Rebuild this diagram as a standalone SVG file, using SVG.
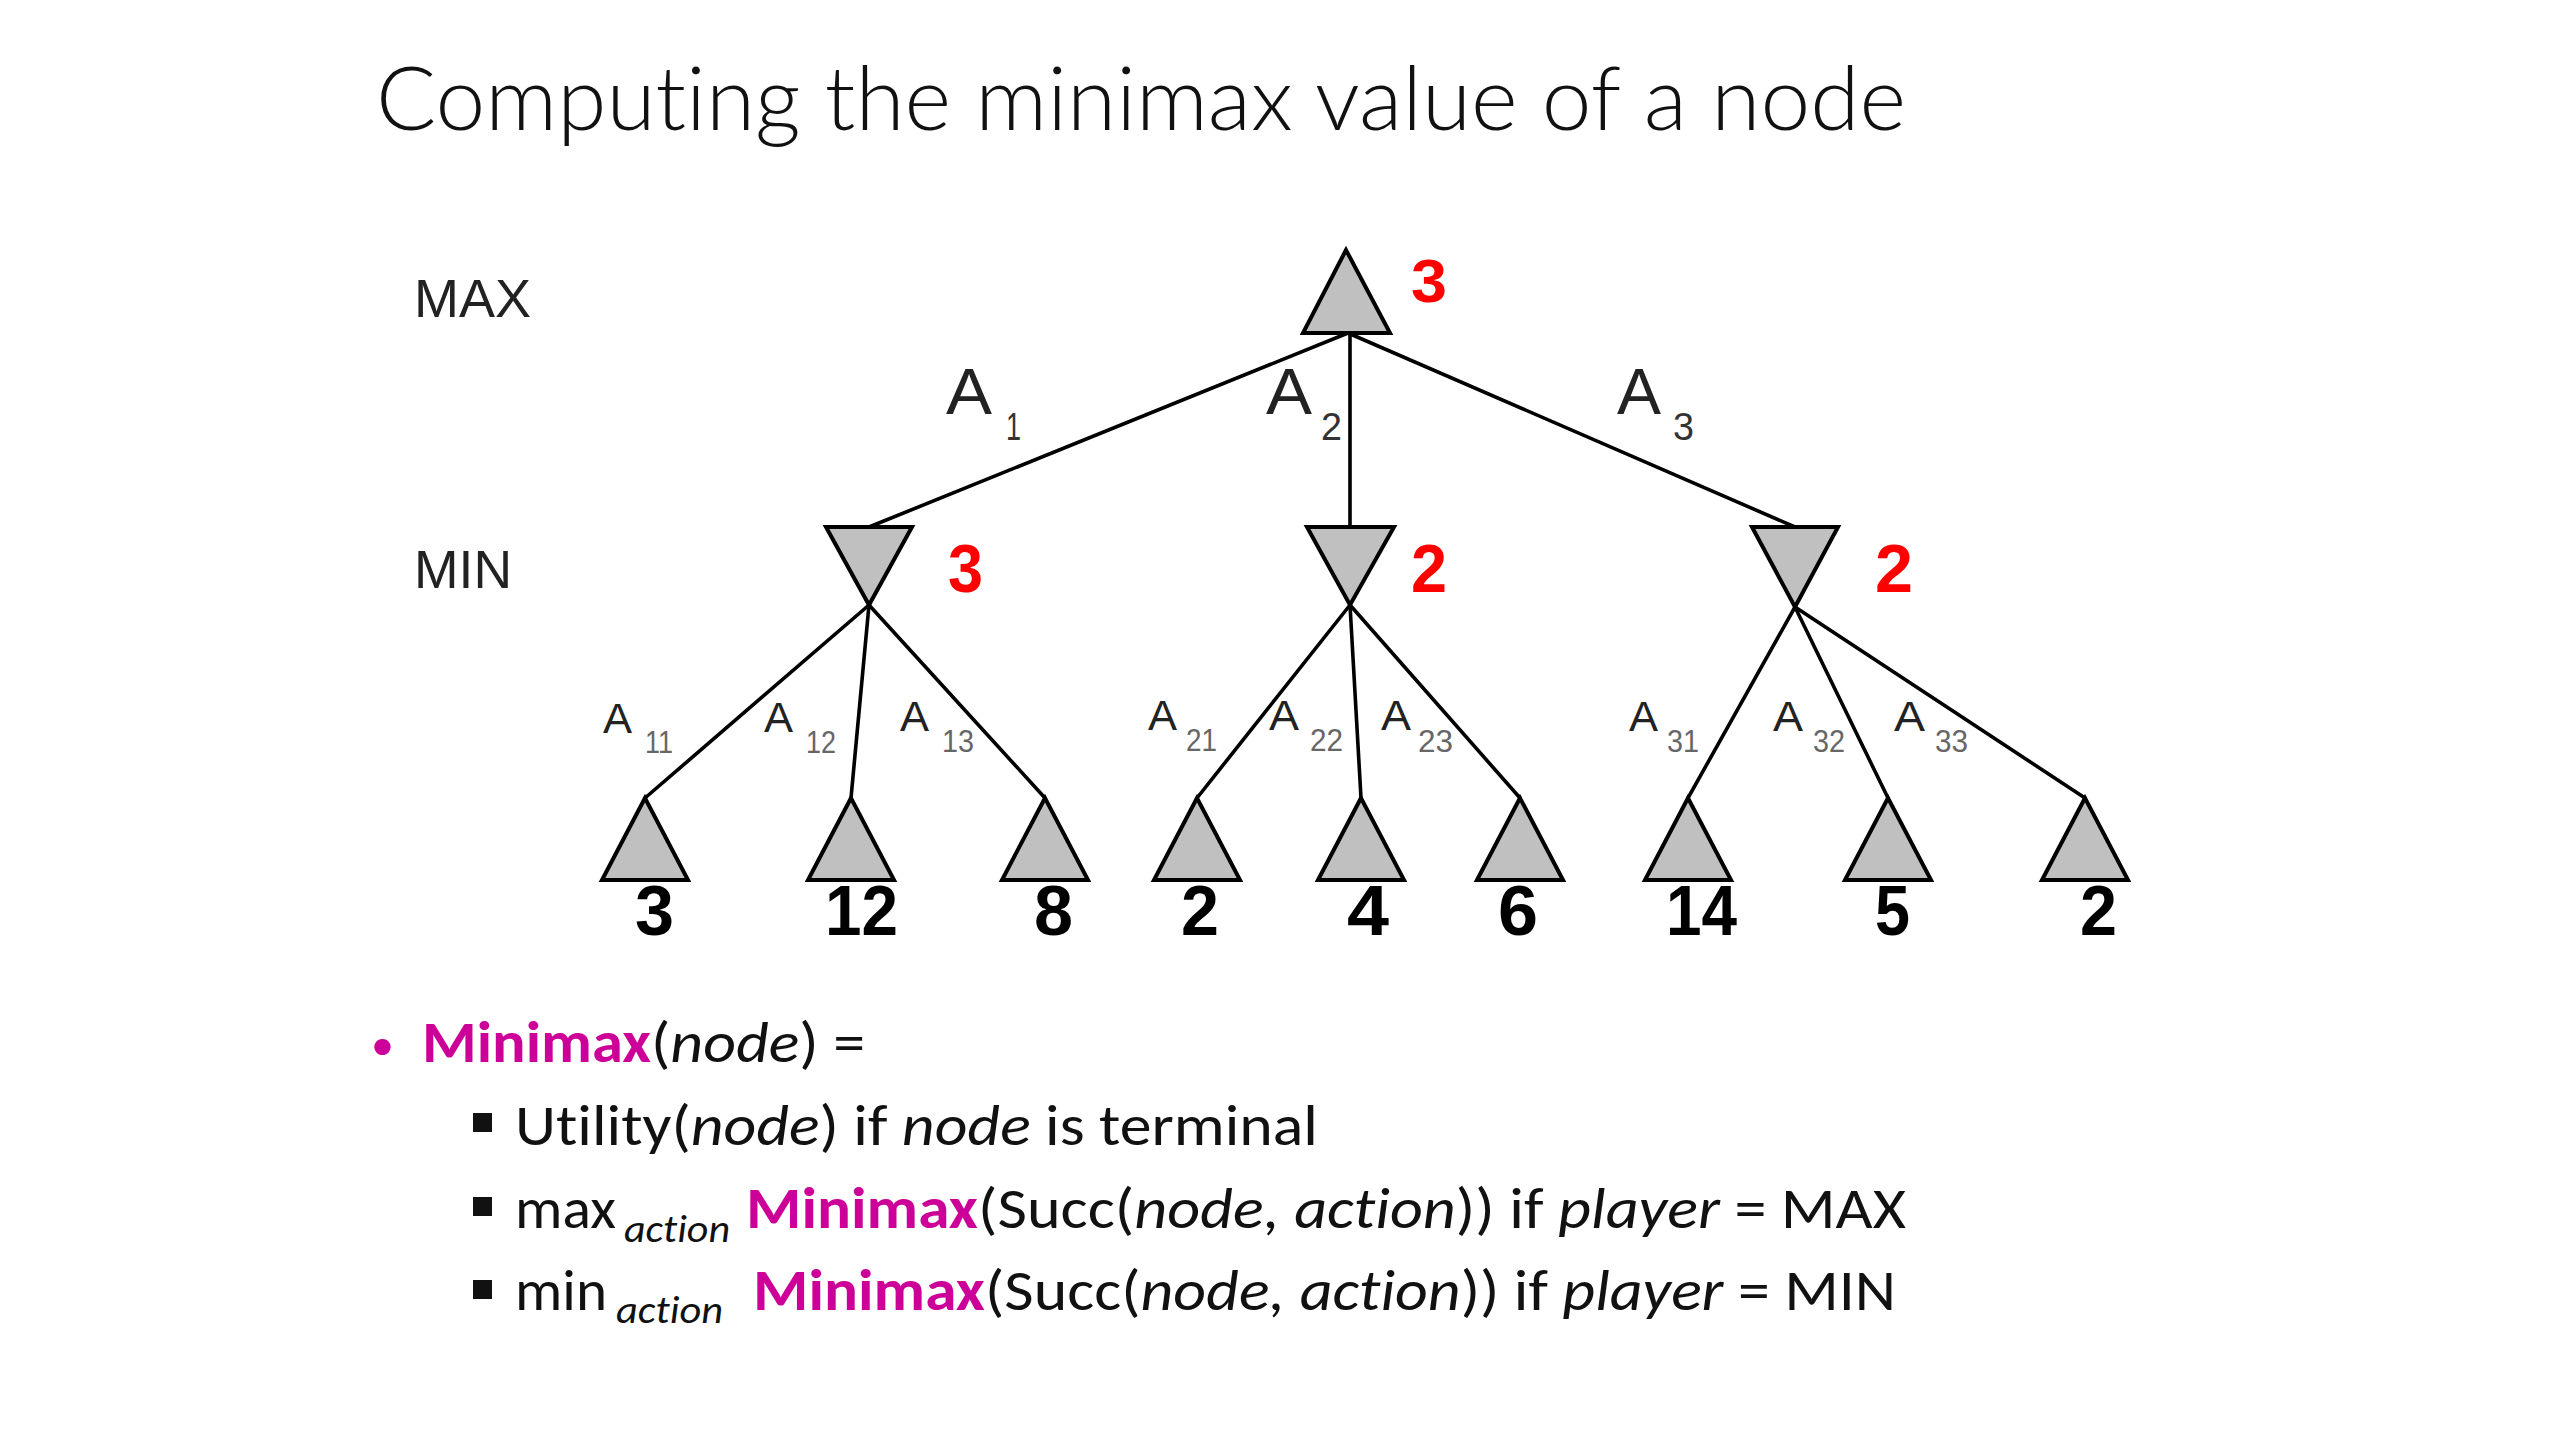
<svg xmlns="http://www.w3.org/2000/svg" width="2560" height="1440" viewBox="0 0 2560 1440">
<defs>
<style>
.bg{fill:#ffffff}
.tri{fill:#c0c0c0;stroke:#000;stroke-width:4;stroke-linejoin:miter}
.edge{stroke:#000;stroke-width:3.6;fill:none;stroke-linecap:round}
.cal{font-family:Carlito,"Open Sans","Noto Sans",sans-serif;font-variant-ligatures:none}
.title{font-family:Lato,"Open Sans",sans-serif;font-weight:300;font-size:88px;fill:#111;font-variant-ligatures:none}
.body{font-size:58px;fill:#111}
.mm{font-weight:700;fill:#cc0099}
.sub{font-size:38px;font-style:italic}
.ar{font-family:"Liberation Sans",Arial,sans-serif}
.lvl{font-size:54px;fill:#222}
.red{font-weight:700;fill:#ff0000}
.leafv{font-weight:700;font-size:70px;fill:#000}
.a1{font-size:64px;fill:#222}
.a1s{font-size:38px;fill:#333}
.a2{font-size:42px;fill:#222}
.a2s{font-size:31px;fill:#666}
</style>
</defs>
<rect class="bg" x="0" y="0" width="2560" height="1440"/>

<text id="title" class="title" x="376" y="130" textLength="1530" lengthAdjust="spacingAndGlyphs">Computing the minimax value of a node</text>

<g id="level-labels">
<text class="ar lvl" x="414" y="317" textLength="117" lengthAdjust="spacingAndGlyphs">MAX</text>
<text class="ar lvl" x="414" y="588" textLength="98" lengthAdjust="spacingAndGlyphs">MIN</text>
</g>

<g id="connectors">
<line class="edge" x1="1348" y1="333" x2="869" y2="527"/>
<line class="edge" x1="1350" y1="333" x2="1350" y2="527"/>
<line class="edge" x1="1348" y1="333" x2="1795" y2="527"/>
<line class="edge" x1="869" y1="605" x2="645" y2="798"/>
<line class="edge" x1="869" y1="605" x2="851" y2="798"/>
<line class="edge" x1="869" y1="605" x2="1045" y2="798"/>
<line class="edge" x1="1350" y1="605" x2="1197" y2="798"/>
<line class="edge" x1="1350" y1="605" x2="1361" y2="798"/>
<line class="edge" x1="1350" y1="605" x2="1520" y2="798"/>
<line class="edge" x1="1795" y1="607" x2="1688" y2="798"/>
<line class="edge" x1="1795" y1="607" x2="1888" y2="798"/>
<line class="edge" x1="1795" y1="607" x2="2085" y2="798"/>
</g>

<g id="edge-labels">
<text class="ar a1" x="946" y="414" textLength="46" lengthAdjust="spacingAndGlyphs">A</text>
<text class="ar a1s" x="1006" y="440" textLength="15" lengthAdjust="spacingAndGlyphs">1</text>
<text class="ar a1" x="1266" y="414" textLength="46" lengthAdjust="spacingAndGlyphs">A</text>
<text class="ar a1s" x="1321" y="440" textLength="21" lengthAdjust="spacingAndGlyphs">2</text>
<text class="ar a1" x="1617" y="414" textLength="44" lengthAdjust="spacingAndGlyphs">A</text>
<text class="ar a1s" x="1673" y="440" textLength="21" lengthAdjust="spacingAndGlyphs">3</text>

<text class="ar a2" x="603" y="733" textLength="29" lengthAdjust="spacingAndGlyphs">A</text>
<text class="ar a2s" x="645" y="753" textLength="28" lengthAdjust="spacingAndGlyphs">11</text>
<text class="ar a2" x="764" y="732" textLength="29" lengthAdjust="spacingAndGlyphs">A</text>
<text class="ar a2s" x="806" y="753" textLength="30" lengthAdjust="spacingAndGlyphs">12</text>
<text class="ar a2" x="900" y="731" textLength="29" lengthAdjust="spacingAndGlyphs">A</text>
<text class="ar a2s" x="942" y="752" textLength="32" lengthAdjust="spacingAndGlyphs">13</text>
<text class="ar a2" x="1148" y="730" textLength="29" lengthAdjust="spacingAndGlyphs">A</text>
<text class="ar a2s" x="1186" y="751" textLength="31" lengthAdjust="spacingAndGlyphs">21</text>
<text class="ar a2" x="1269" y="730" textLength="30" lengthAdjust="spacingAndGlyphs">A</text>
<text class="ar a2s" x="1310" y="751" textLength="33" lengthAdjust="spacingAndGlyphs">22</text>
<text class="ar a2" x="1381" y="730" textLength="30" lengthAdjust="spacingAndGlyphs">A</text>
<text class="ar a2s" x="1418" y="752" textLength="35" lengthAdjust="spacingAndGlyphs">23</text>
<text class="ar a2" x="1629" y="731" textLength="29" lengthAdjust="spacingAndGlyphs">A</text>
<text class="ar a2s" x="1667" y="752" textLength="32" lengthAdjust="spacingAndGlyphs">31</text>
<text class="ar a2" x="1773" y="731" textLength="30" lengthAdjust="spacingAndGlyphs">A</text>
<text class="ar a2s" x="1813" y="752" textLength="32" lengthAdjust="spacingAndGlyphs">32</text>
<text class="ar a2" x="1894" y="731" textLength="31" lengthAdjust="spacingAndGlyphs">A</text>
<text class="ar a2s" x="1935" y="752" textLength="33" lengthAdjust="spacingAndGlyphs">33</text>
</g>

<g id="root">
<polygon class="tri" points="1346,250 1303,333 1390,333"/>
<text class="ar red" x="1411" y="302" font-size="62" textLength="36" lengthAdjust="spacingAndGlyphs">3</text>
</g>

<g id="min1">
<polygon class="tri" points="826,527 912,527 869,605"/>
<text class="ar red" x="948" y="592" font-size="68" textLength="35" lengthAdjust="spacingAndGlyphs">3</text>
</g>
<g id="min2">
<polygon class="tri" points="1307,527 1394,527 1350,605"/>
<text class="ar red" x="1411" y="592" font-size="68" textLength="36" lengthAdjust="spacingAndGlyphs">2</text>
</g>
<g id="min3">
<polygon class="tri" points="1752,527 1838,527 1795,607"/>
<text class="ar red" x="1875" y="592" font-size="68" textLength="38" lengthAdjust="spacingAndGlyphs">2</text>
</g>

<g id="leaf1"><polygon class="tri" points="645,798 602,880 688,880"/><text class="ar leafv" x="635" y="935" textLength="39" lengthAdjust="spacingAndGlyphs">3</text></g>
<g id="leaf2"><polygon class="tri" points="851,798 808,880 894,880"/><text class="ar leafv" x="825" y="935" textLength="73" lengthAdjust="spacingAndGlyphs">12</text></g>
<g id="leaf3"><polygon class="tri" points="1045,798 1002,880 1088,880"/><text class="ar leafv" x="1034" y="935" textLength="39" lengthAdjust="spacingAndGlyphs">8</text></g>
<g id="leaf4"><polygon class="tri" points="1197,798 1154,880 1240,880"/><text class="ar leafv" x="1181" y="935" textLength="38" lengthAdjust="spacingAndGlyphs">2</text></g>
<g id="leaf5"><polygon class="tri" points="1361,798 1318,880 1404,880"/><text class="ar leafv" x="1347" y="935" textLength="42" lengthAdjust="spacingAndGlyphs">4</text></g>
<g id="leaf6"><polygon class="tri" points="1520,798 1477,880 1563,880"/><text class="ar leafv" x="1498" y="935" textLength="40" lengthAdjust="spacingAndGlyphs">6</text></g>
<g id="leaf7"><polygon class="tri" points="1688,798 1645,880 1731,880"/><text class="ar leafv" x="1666" y="935" textLength="71" lengthAdjust="spacingAndGlyphs">14</text></g>
<g id="leaf8"><polygon class="tri" points="1888,798 1845,880 1931,880"/><text class="ar leafv" x="1875" y="935" textLength="35" lengthAdjust="spacingAndGlyphs">5</text></g>
<g id="leaf9"><polygon class="tri" points="2085,798 2042,880 2128,880"/><text class="ar leafv" x="2080" y="935" textLength="37" lengthAdjust="spacingAndGlyphs">2</text></g>

<g id="definition">
<text class="cal" x="371" y="1060" font-size="46" fill="#cc0099">•</text>
<text class="cal body mm" x="422" y="1062" textLength="229" lengthAdjust="spacingAndGlyphs">Minimax</text>
<text class="cal body" x="651" y="1062" textLength="214" lengthAdjust="spacingAndGlyphs">(<tspan font-style="italic">node</tspan>) =</text>

<rect x="473" y="1113" width="19" height="19" fill="#111"/>
<text class="cal body" x="515" y="1145" textLength="803" lengthAdjust="spacingAndGlyphs">Utility(<tspan font-style="italic">node</tspan>) if <tspan font-style="italic">node</tspan> is terminal</text>

<rect x="473" y="1197" width="19" height="19" fill="#111"/>
<text class="cal body" x="515" y="1228" textLength="101" lengthAdjust="spacingAndGlyphs">max</text>
<text class="cal body sub" x="624" y="1242" textLength="106" lengthAdjust="spacingAndGlyphs">action</text>
<text class="cal body mm" x="746" y="1228" textLength="232" lengthAdjust="spacingAndGlyphs">Minimax</text>
<text class="cal body" x="978" y="1228" textLength="928" lengthAdjust="spacingAndGlyphs">(Succ(<tspan font-style="italic">node, action</tspan>)) if <tspan font-style="italic">player</tspan> = MAX</text>

<rect x="473" y="1280" width="19" height="19" fill="#111"/>
<text class="cal body" x="515" y="1310" textLength="92" lengthAdjust="spacingAndGlyphs">min</text>
<text class="cal body sub" x="616" y="1323" textLength="107" lengthAdjust="spacingAndGlyphs">action</text>
<text class="cal body mm" x="753" y="1310" textLength="232" lengthAdjust="spacingAndGlyphs">Minimax</text>
<text class="cal body" x="985" y="1310" textLength="911" lengthAdjust="spacingAndGlyphs">(Succ(<tspan font-style="italic">node, action</tspan>)) if <tspan font-style="italic">player</tspan> = MIN</text>
</g>
</svg>
